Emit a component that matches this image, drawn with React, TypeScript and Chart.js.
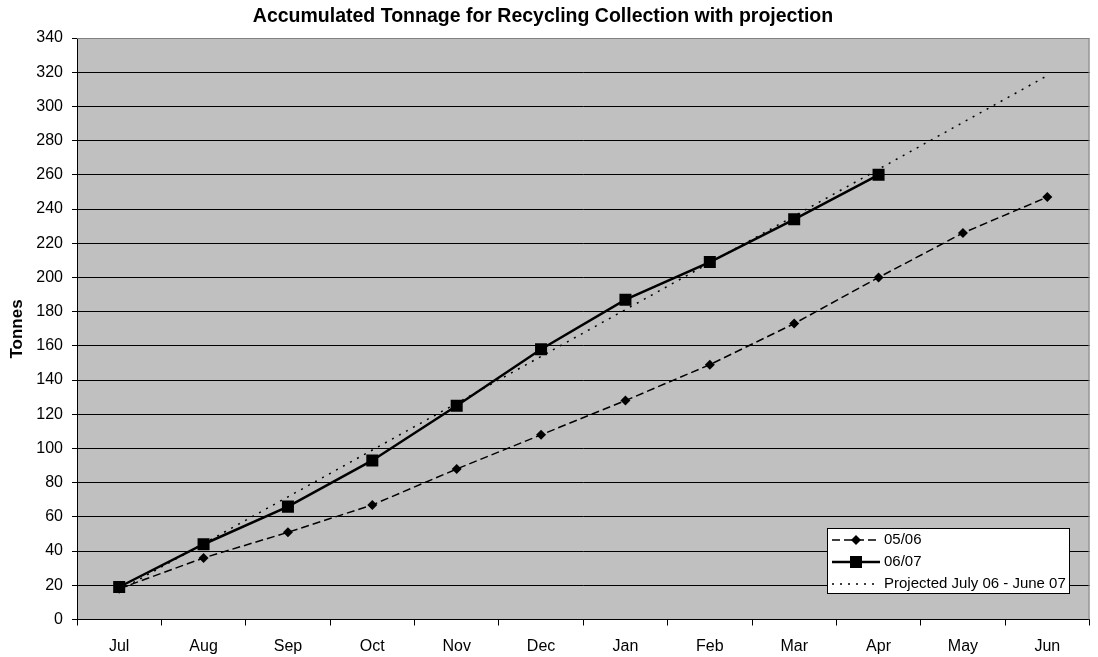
import React, { useEffect, useRef } from "react";
import { Chart, registerables } from "chart.js";

Chart.register(...registerables);

const categories = ["Jul", "Aug", "Sep", "Oct", "Nov", "Dec", "Jan", "Feb", "Mar", "Apr", "May", "Jun"];
const series0506 = [18, 36, 51, 67, 88, 108, 128, 149, 173, 200, 226, 247];
const series0607 = [19, 44, 66, 93, 125, 158, 187, 209, 234, 260, null, null];
const projected = [17, null, null, null, null, null, null, null, null, null, null, 318];
const seriesNames = ["05/06", "06/07", "Projected July 06 - June 07"];
const chartTitle = "Accumulated Tonnage for Recycling Collection with projection";
const yTitle = "Tonnes";

const FONT = "Arial, 'Liberation Sans', sans-serif";

const decorPlugin = {
  id: "decor",
  beforeDraw(chart: any) {
    const { ctx, chartArea: a, width, height } = chart;
    ctx.save();
    ctx.fillStyle = "#ffffff";
    ctx.fillRect(0, 0, width, height);
    ctx.fillStyle = "#c0c0c0";
    ctx.fillRect(a.left, a.top, a.right - a.left, a.bottom - a.top);
    ctx.restore();
  },
  afterDatasetsDraw(chart: any) {
    const { ctx, chartArea: a } = chart;
    ctx.save();
    ctx.strokeStyle = "#808080";
    ctx.lineWidth = 1;
    ctx.beginPath();
    ctx.moveTo(a.left, a.top + 0.5);
    ctx.lineTo(a.right - 0.5, a.top + 0.5);
    ctx.lineTo(a.right - 0.5, a.bottom);
    ctx.stroke();
    ctx.restore();
  },
  afterDraw(chart: any) {
    const { ctx } = chart;
    ctx.save();
    // title
    ctx.fillStyle = "#000";
    ctx.font = `bold 19.5px ${FONT}`;
    ctx.textAlign = "center";
    ctx.textBaseline = "middle";
    ctx.fillText(chartTitle, 543, 17);
    // y title
    ctx.save();
    ctx.translate(17.5, 329);
    ctx.rotate(-Math.PI / 2);
    ctx.font = `bold 17px ${FONT}`;
    ctx.fillText(yTitle, 0, 0);
    ctx.restore();

    // legend
    const lx = 827.5, ly = 528.5, lw = 242, lh = 65;
    ctx.fillStyle = "#fff";
    ctx.fillRect(lx, ly, lw, lh);
    ctx.strokeStyle = "#000";
    ctx.lineWidth = 1;
    ctx.strokeRect(lx, ly, lw, lh);
    const rows = [540, 562, 584];
    const x0 = 832, x1 = 880;
    ctx.font = `15px ${FONT}`;
    ctx.textAlign = "left";
    ctx.textBaseline = "middle";
    // row 1
    ctx.strokeStyle = "#000";
    ctx.lineWidth = 1.5;
    ctx.setLineDash([8, 4]);
    ctx.beginPath();
    ctx.moveTo(x0, rows[0]);
    ctx.lineTo(x1, rows[0]);
    ctx.stroke();
    ctx.setLineDash([]);
    const cx = (x0 + x1) / 2;
    ctx.fillStyle = "#000";
    ctx.beginPath();
    ctx.moveTo(cx - 5, rows[0]);
    ctx.lineTo(cx, rows[0] - 5);
    ctx.lineTo(cx + 5, rows[0]);
    ctx.lineTo(cx, rows[0] + 5);
    ctx.closePath();
    ctx.fill();
    // row 2
    ctx.lineWidth = 2.5;
    ctx.beginPath();
    ctx.moveTo(x0, rows[1]);
    ctx.lineTo(x1, rows[1]);
    ctx.stroke();
    ctx.fillRect(cx - 6, rows[1] - 6, 12, 12);
    // row 3
    ctx.lineWidth = 1.5;
    ctx.setLineDash([2, 6]);
    ctx.beginPath();
    ctx.moveTo(x0, rows[2]);
    ctx.lineTo(x1, rows[2]);
    ctx.stroke();
    ctx.setLineDash([]);
    ctx.fillStyle = "#000";
    ctx.fillText(seriesNames[0], 884, rows[0]);
    ctx.fillText(seriesNames[1], 884, rows[1]);
    ctx.fillText(seriesNames[2], 884, rows[2]);
    ctx.restore();
  },
};

export default function App() {
  const ref = useRef<HTMLCanvasElement | null>(null);
  useEffect(() => {
    if (!ref.current) return;
    const chart = new Chart(ref.current, {
      type: "line",
      data: {
        labels: categories,
        datasets: [
          {
            label: seriesNames[0],
            data: series0506,
            borderColor: "#000",
            backgroundColor: "#000",
            borderWidth: 1.5,
            borderDash: [8, 4],
            pointStyle: "rectRot",
            pointRadius: 5,
            pointBorderWidth: 0,
            pointBackgroundColor: "#000",
            tension: 0,
            order: 2,
          },
          {
            label: seriesNames[1],
            data: series0607,
            borderColor: "#000",
            backgroundColor: "#000",
            borderWidth: 2.5,
            pointStyle: "rect",
            pointRadius: 8.5,
            pointBorderWidth: 0,
            pointBackgroundColor: "#000",
            tension: 0,
            order: 1,
          },
          {
            label: seriesNames[2],
            data: projected,
            borderColor: "#000",
            borderWidth: 1.5,
            borderDash: [2, 6],
            pointRadius: 0,
            spanGaps: true,
            tension: 0,
            order: 3,
          },
        ],
      },
      options: {
        animation: false,
        responsive: false,
        maintainAspectRatio: false,
        layout: { padding: { top: 38, right: 7, left: 0, bottom: 0 } },
        plugins: {
          legend: { display: false },
          title: { display: false },
          tooltip: { enabled: false },
        },
        scales: {
          x: {
            type: "category",
            offset: true,
            grid: {
              offset: true,
              drawOnChartArea: false,
              drawTicks: true,
              tickLength: 6,
              tickColor: "#000",
              color: "#000",
            },
            border: { color: "#000", width: 1 },
            ticks: {
              color: "#000",
              font: { family: FONT, size: 16 },
              padding: 11,
              maxRotation: 0,
              autoSkip: false,
            },
            afterFit(scale: any) {
              scale.height = 37.5;
            },
          },
          y: {
            min: 0,
            max: 340,
            grid: {
              color: (c: any) => (c.tick && c.tick.value === 340 ? "#808080" : "#000"),
              lineWidth: 1,
              tickLength: 5,
              tickColor: "#000",
            },
            border: { color: "#000", width: 1 },
            ticks: {
              stepSize: 20,
              color: "#000",
              font: { family: FONT, size: 16 },
              padding: 9,
            },
            afterFit(scale: any) {
              scale.width = 77;
            },
          },
        },
      },
      plugins: [decorPlugin],
    });
    return () => chart.destroy();
  }, []);
  return (
    <div style={{ position: "absolute", left: 0, top: 0, width: 1098, height: 657 }}>
      <canvas ref={ref} width={1098} height={657} style={{ display: "block" }} />
    </div>
  );
}
